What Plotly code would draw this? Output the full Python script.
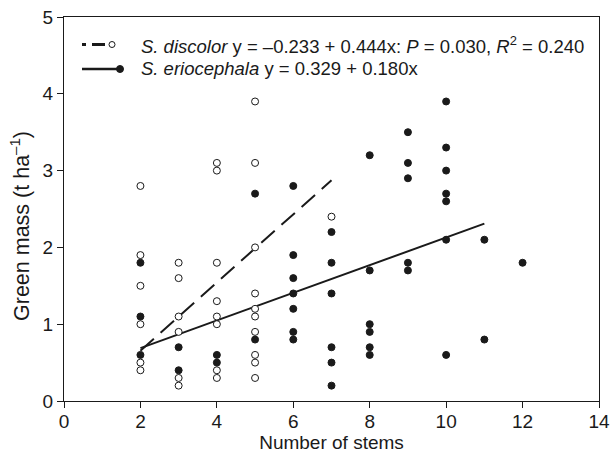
import plotly.graph_objects as go

# S. discolor (open circles)
disc_x = [2, 2, 2, 2, 2, 2,
          3, 3, 3, 3, 3, 3,
          4, 4, 4, 4, 4, 4, 4, 4,
          5, 5, 5, 5, 5, 5, 5, 5, 5, 5,
          7]
disc_y = [2.8, 1.9, 1.5, 1.0, 0.5, 0.4,
          1.8, 1.6, 1.1, 0.9, 0.3, 0.2,
          3.1, 3.0, 1.8, 1.3, 1.1, 1.0, 0.4, 0.3,
          3.9, 3.1, 2.0, 1.4, 1.2, 1.1, 0.9, 0.6, 0.5, 0.3,
          2.4]

# S. eriocephala (filled circles)
erio_x = [2, 2, 2,
          3, 3,
          4, 4,
          5, 5,
          6, 6, 6, 6, 6, 6, 6,
          7, 7, 7, 7, 7, 7,
          8, 8, 8, 8, 8, 8,
          9, 9, 9, 9, 9,
          10, 10, 10, 10, 10, 10, 10,
          11, 11,
          12]
erio_y = [1.8, 1.1, 0.6,
          0.7, 0.4,
          0.6, 0.5,
          2.7, 0.8,
          2.8, 1.9, 1.6, 1.4, 1.2, 0.9, 0.8,
          2.2, 1.8, 1.4, 0.7, 0.5, 0.2,
          3.2, 1.7, 1.0, 0.9, 0.7, 0.6,
          3.5, 3.1, 2.9, 1.8, 1.7,
          3.9, 3.3, 3.0, 2.7, 2.6, 2.1, 0.6,
          2.1, 0.8,
          1.8]

# Regression fits
disc_a, disc_b = -0.233, 0.444
erio_a, erio_b = 0.329, 0.180
disc_fit_x = [2, 7]
erio_fit_x = [2, 11]
disc_fit_y = [disc_a + disc_b * v for v in disc_fit_x]
erio_fit_y = [erio_a + erio_b * v for v in erio_fit_x]

x_ticks = [0, 2, 4, 6, 8, 10, 12, 14]
y_ticks = [0, 1, 2, 3, 4, 5]

disc_label = ("<i>S. discolor</i> y = \u20130.233 + 0.444x: <i>P</i> = 0.030, "
              "<i>R</i><sup>2</sup> = 0.240")
erio_label = "<i>S. eriocephala</i> y = 0.329 + 0.180x"
x_title = "Number of stems"
y_title = "Green mass (t ha<sup>\u20131</sup>)"

ink = "#1a1a1a"
W, H = 610, 460
ML, MR, MT, MB = 64, 11, 17, 59
PW, PH = W - ML - MR, H - MT - MB


def px(xp):
    return (xp - ML) / PW


def py(yp):
    return (H - MB - yp) / PH


axis_font = "Liberation Sans Narrow, Arial Narrow, Liberation Sans, Arial, sans-serif"
text_font = "Liberation Sans, Arial, sans-serif"

fig = go.Figure()
fig.add_trace(go.Scatter(x=disc_fit_x, y=disc_fit_y, mode="lines",
                         line=dict(color=ink, width=2, dash="18px,9px"),
                         showlegend=False, hoverinfo="skip"))
fig.add_trace(go.Scatter(x=erio_fit_x, y=erio_fit_y, mode="lines",
                         line=dict(color=ink, width=2),
                         showlegend=False, hoverinfo="skip"))
fig.add_trace(go.Scatter(x=disc_x, y=disc_y, mode="markers",
                         marker=dict(symbol="circle", size=7, color="white",
                                     line=dict(color=ink, width=1)),
                         showlegend=False))
fig.add_trace(go.Scatter(x=erio_x, y=erio_y, mode="markers",
                         marker=dict(symbol="circle", size=7, color=ink,
                                     line=dict(color=ink, width=1)),
                         showlegend=False))

shapes = []
r1, r2 = 44.5, 69
shapes.append(dict(type="line", xref="paper", yref="paper", x0=px(82), x1=px(86), y0=py(r1), y1=py(r1),
                   line=dict(color=ink, width=3)))
shapes.append(dict(type="line", xref="paper", yref="paper", x0=px(92), x1=px(105), y0=py(r1), y1=py(r1),
                   line=dict(color=ink, width=3)))
shapes.append(dict(type="circle", xref="paper", yref="paper", xsizemode="pixel", ysizemode="pixel",
                   xanchor=px(112), yanchor=py(r1), x0=-3, x1=3, y0=-3, y1=3,
                   line=dict(color=ink, width=1), fillcolor="white"))
shapes.append(dict(type="line", xref="paper", yref="paper", x0=px(82), x1=px(123), y0=py(r2), y1=py(r2),
                   line=dict(color=ink, width=2.5)))
shapes.append(dict(type="circle", xref="paper", yref="paper", xsizemode="pixel", ysizemode="pixel",
                   xanchor=px(120), yanchor=py(r2), x0=-3.5, x1=3.5, y0=-3.5, y1=3.5,
                   line=dict(color=ink, width=1), fillcolor=ink))

annotations = [
    dict(text=disc_label, xref="paper", yref="paper", x=px(139), y=py(r1), xanchor="left",
         yanchor="middle", showarrow=False, font=dict(family=text_font, size=18.5, color=ink)),
    dict(text=erio_label, xref="paper", yref="paper", x=px(139), y=py(r2), xanchor="left",
         yanchor="middle", showarrow=False, font=dict(family=text_font, size=18.5, color=ink)),
    dict(text=y_title, xref="paper", yref="paper", x=px(20), y=py(226), xanchor="center",
         yanchor="middle", textangle=-90, showarrow=False,
         font=dict(family=axis_font, size=21.5, color=ink)),
]

axis_common = dict(showgrid=False, zeroline=False, showline=True, linecolor=ink,
                   linewidth=1, mirror=True, ticks="outside", ticklen=6, automargin=False,
                   tickcolor=ink, tickfont=dict(family=axis_font, size=19, color=ink))

fig.update_layout(
    width=W, height=H,
    margin=dict(l=ML, r=MR, t=MT, b=MB, autoexpand=False),
    plot_bgcolor="white", paper_bgcolor="white",
    font=dict(family=axis_font, size=19, color=ink),
    xaxis=dict(range=[0, 14], tickvals=x_ticks, ticklabelstandoff=-3,
               title=dict(text=x_title, standoff=2, font=dict(family=axis_font, size=19, color=ink)),
               **axis_common),
    yaxis=dict(range=[0, 5], tickvals=y_ticks, **axis_common),
    shapes=shapes,
    annotations=annotations,
    showlegend=False,
)

fig.write_html("out.html")
